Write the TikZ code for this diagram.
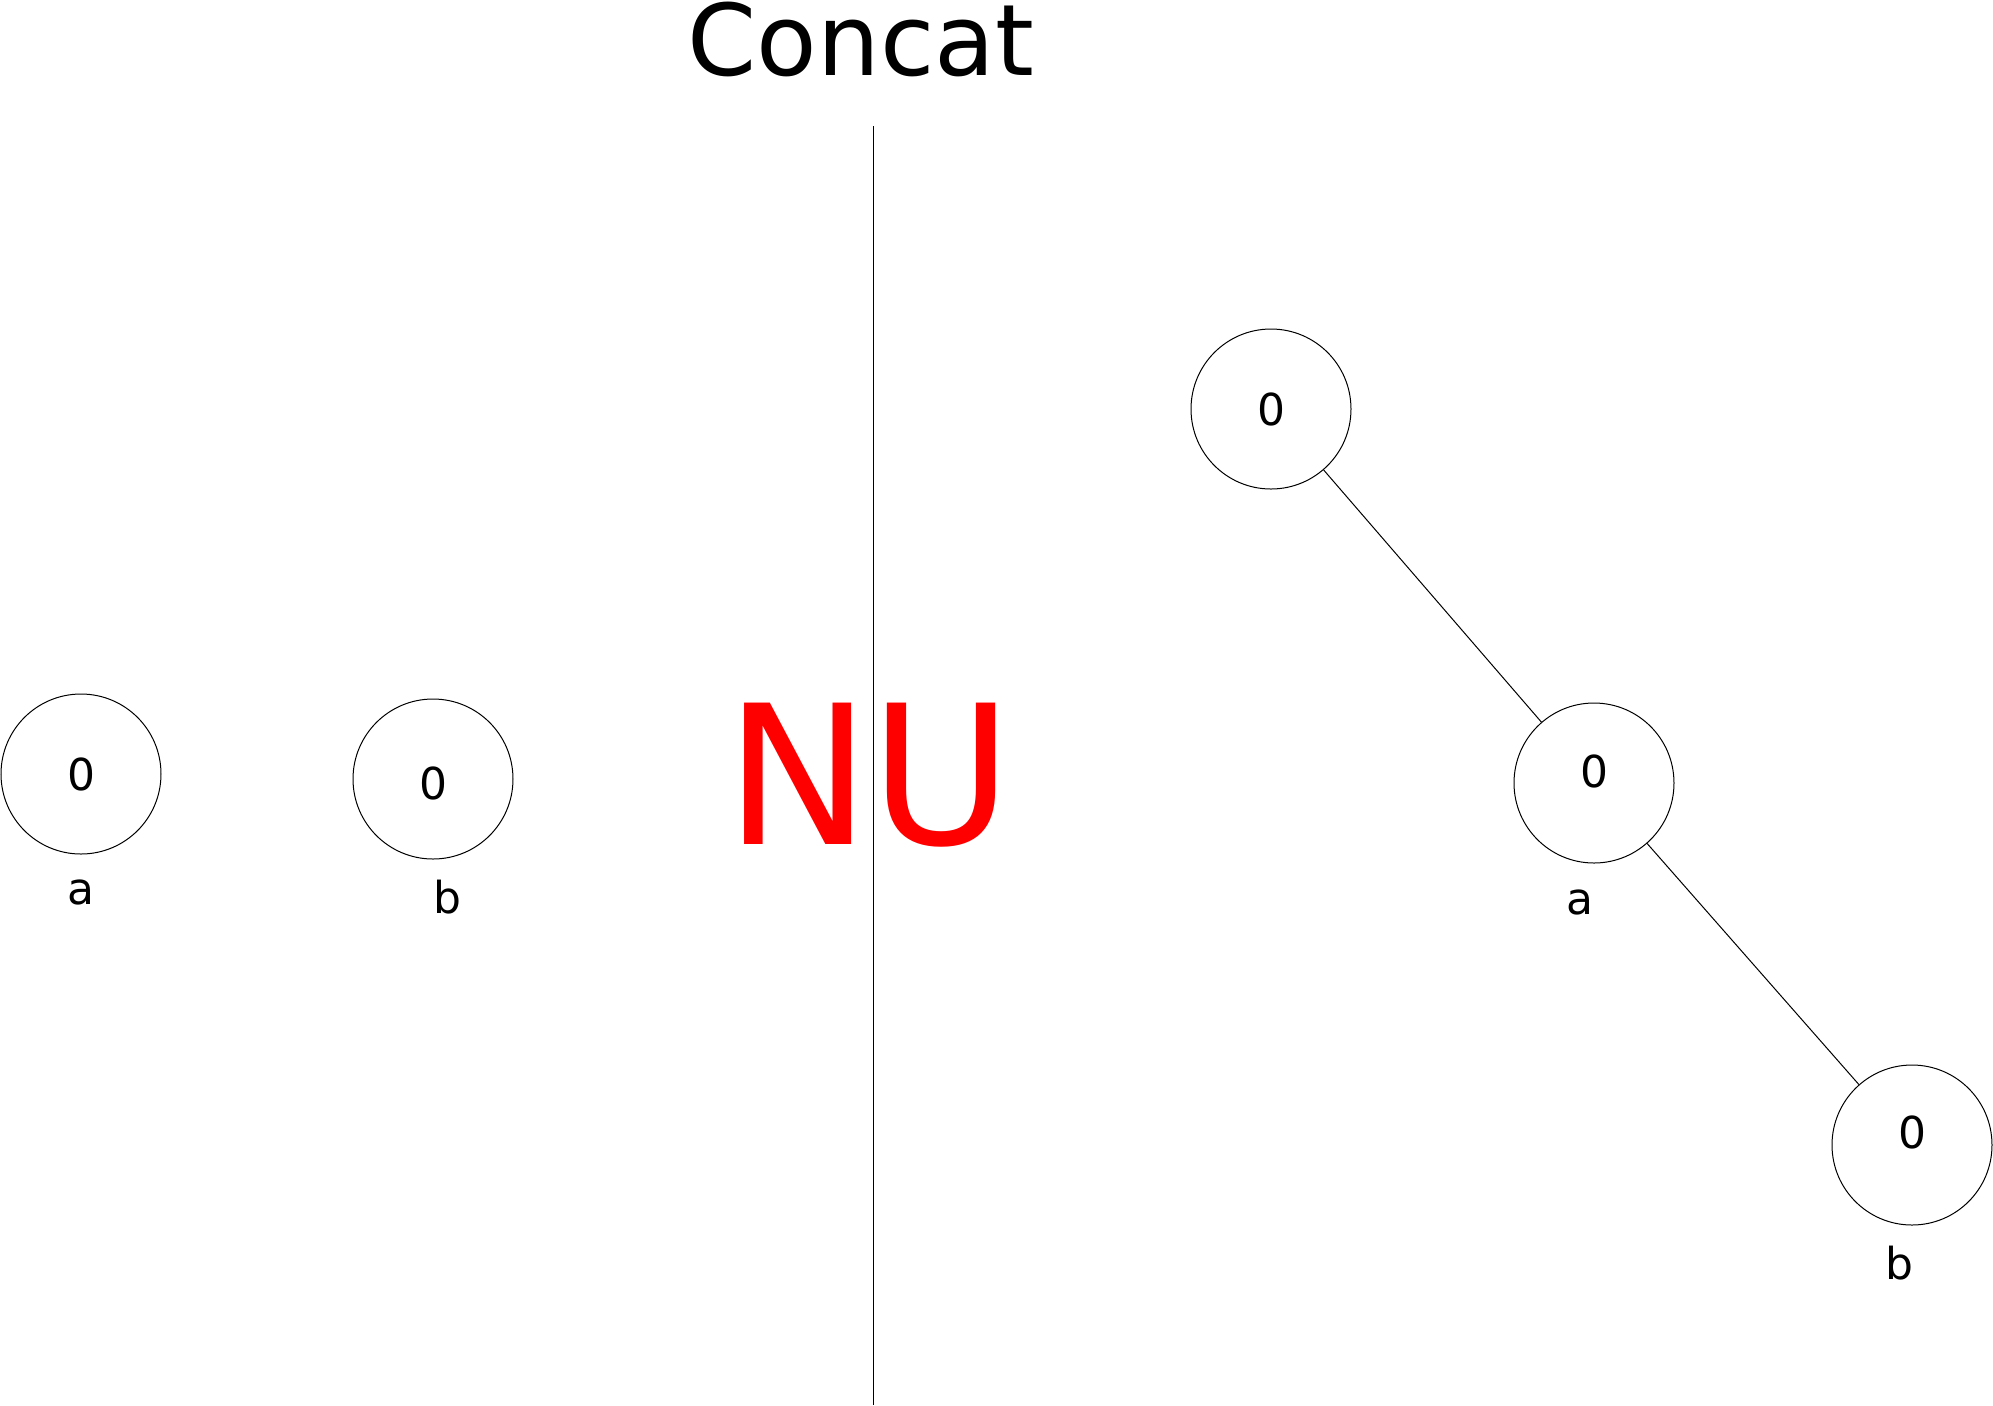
\documentclass[tikz,border=0pt]{standalone}
\usepackage{fontspec}
\setmainfont{DejaVu Sans}
\usetikzlibrary{positioning}
\tikzset{
    circlenode/.style = {circle, draw, minimum size=80pt, inner sep = 0em, line width=0.5pt,
      node distance=0em, font=\fontsize{22}{26}\selectfont},
    textnode/.style  = {draw=none, fill=none, rectangle, inner sep = 0em,
      node distance=0em, font=\fontsize{22}{26}\selectfont},
    lift/.style = {text height=#1, text depth=0pt},
    connect/.style = {black, line width=0.5pt}
}

\begin{document}
\begin{tikzpicture}[x=0.5pt, y=-0.5pt]
    \useasboundingbox (0,0) rectangle (1993,1405);

    \node [textnode, name=title, anchor=base, font=\fontsize{49.5}{60}\selectfont] at (861,75) {Concat};

    % dividing line
    \coordinate (divtop) at (873,126);
    \coordinate (divbot) at (873,1405);
    \draw [connect] (divtop) -- (divbot);

    \node [textnode, name=nu, anchor=base, text=red, font=\fontsize{97}{116}\selectfont] at (869,844) {NU};

    % before
    \node [circlenode, name=La] at (81,774) {0};
    \node [circlenode, name=Lb, lift=20pt] at (433,779) {0};
    \node [textnode, name=labLa, below of = La, yshift=-59pt] {a};
    \node [textnode, name=labLb, below of = Lb, xshift=7pt, yshift=-59pt] {b};

    % after
    \node [circlenode, name=root] at (1271,409) {0};
    \node [circlenode, name=Ra, lift=4pt] at (1594,783) {0};
    \node [circlenode, name=Rb, lift=3pt] at (1912,1145) {0};
    \node [textnode, name=labRa, below of = Ra, xshift=-7pt, yshift=-59.5pt] {a};
    \node [textnode, name=labRb, below of = Rb, xshift=-6.5pt, yshift=-59pt] {b};

    \draw [connect] (root) -- (Ra);
    \draw [connect] (Ra) -- (Rb);
\end{tikzpicture}
\end{document}
